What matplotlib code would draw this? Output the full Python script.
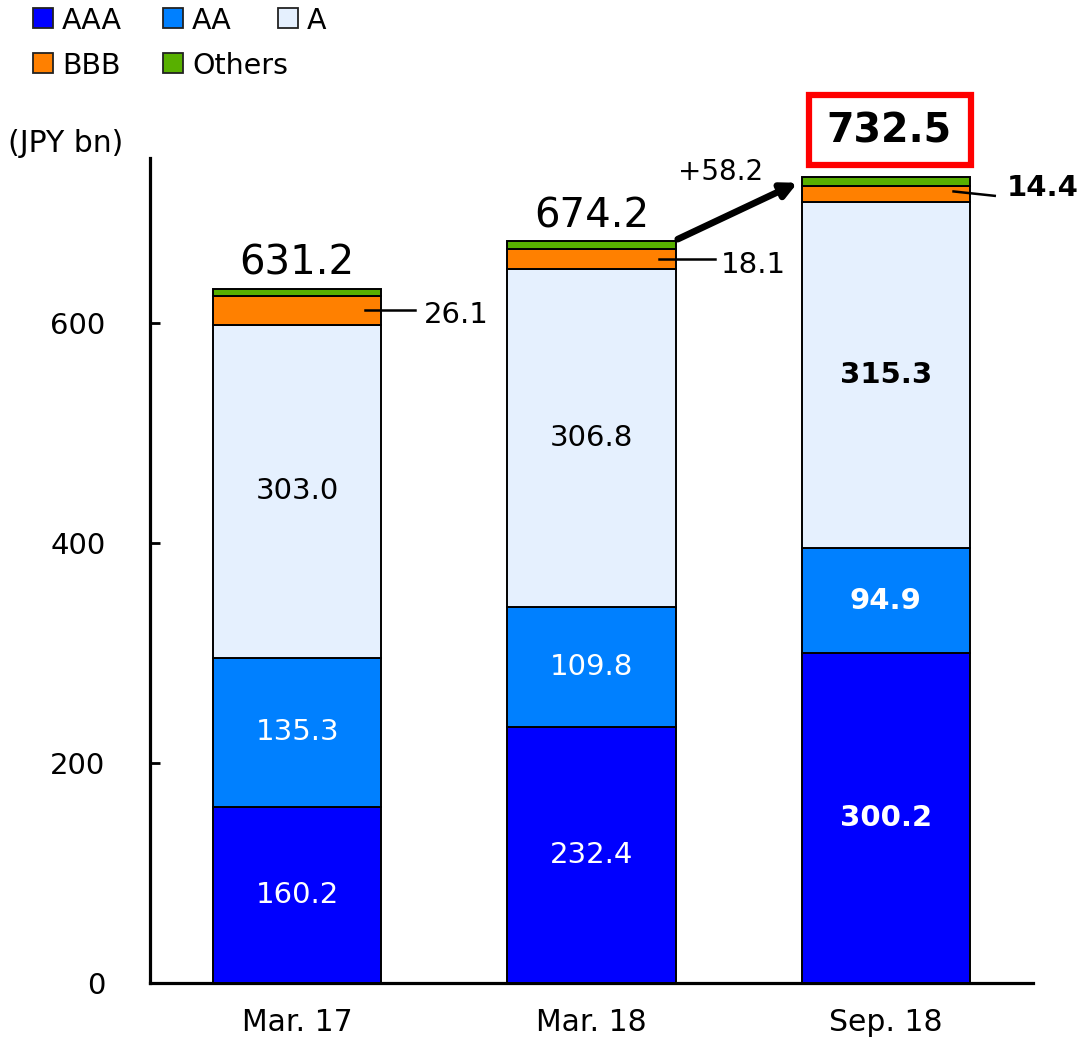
import matplotlib
matplotlib.use("Agg")
import matplotlib.pyplot as plt
from matplotlib.patches import Rectangle

# data (JPY bn)
periods = ["Mar. 17", "Mar. 18", "Sep. 18"]
aaa = [160.2, 232.4, 300.2]
aa = [135.3, 109.8, 94.9]
a = [303.0, 306.8, 315.3]
bbb = [26.1, 18.1, 14.4]
others = [6.6, 7.1, 7.7]
totals = [631.2, 674.2, 732.5]
increase = "+58.2"

series = [("AAA", aaa, "#0000FF", "white"),
          ("AA", aa, "#0080FF", "white"),
          ("A", a, "#E5F0FE", "black"),
          ("BBB", bbb, "#FF8000", None),
          ("Others", others, "#58B000", None)]

W, H = 1079, 1043
fig = plt.figure(figsize=(W / 100, H / 100), dpi=100)
ax = fig.add_axes([150 / W, 60 / H, 883 / W, 825 / H])

x = range(len(periods))
bottom = [0.0] * len(periods)
for name, vals, col, tcol in series:
    ax.bar(x, vals, 0.571, bottom=bottom, color=col, edgecolor="black",
           linewidth=1.4, zorder=3)
    if tcol:
        for i, v in enumerate(vals):
            ax.text(i, bottom[i] + v / 2, f"{v:.1f}", ha="center", va="center",
                    fontsize=21, color=tcol,
                    fontweight="bold" if i == 2 else "normal", zorder=4)
    bottom = [b + v for b, v in zip(bottom, vals)]

# BBB leader labels
bbb_base = [aaa[i] + aa[i] + a[i] for i in x]
for i in x:
    ym = bbb_base[i] + bbb[i] / 2
    dy = -2 if i == 2 else 0
    ax.plot([i + 0.23, i + 0.40 if i == 0 else i + 0.42 if i == 1 else i + 0.37],
            [ym + (2 if i == 2 else 0), ym + dy], color="black", lw=1.8,
            zorder=5, clip_on=False)
    tx = [0.43, 0.44, 0.41][i]
    ax.text(i + tx, ym + [-4, -5, 5][i], f"{bbb[i]:.1f}", ha="left", va="center",
            fontsize=21, fontweight="bold" if i == 2 else "normal",
            clip_on=False)

# totals
for i in range(2):
    ax.text(i, totals[i] + 23, f"{totals[i]:.1f}", ha="center", va="center",
            fontsize=29)
ax.text(2.01, totals[2] + 42, f"{totals[2]:.1f}", ha="center", va="center",
        fontsize=28.5, fontweight="bold", clip_on=False)
ax.add_patch(Rectangle((1.738, totals[2] + 11), 0.551, 63.5, fill=False,
                       edgecolor="#FF0000", linewidth=4.5, clip_on=False))

# growth arrow
ax.annotate("", xy=(1.70, totals[2] - 5), xytext=(1.293, totals[1] + 2),
            arrowprops=dict(arrowstyle="-|>,head_length=0.9,head_width=0.45",
                            color="black", lw=4.8, shrinkA=0, shrinkB=0),
            annotation_clip=False)
ax.text(1.44, 737, increase, ha="center", va="center", fontsize=20,
        clip_on=False)

ax.set_xlim(-0.5, 2.5)
ax.set_ylim(0, 750)
ax.set_yticks([0, 200, 400, 600])
ax.set_xticks(list(x))
ax.set_xticklabels(periods)
ax.tick_params(axis="y", direction="in", length=7, width=2, labelsize=21, pad=32)
ax.tick_params(axis="x", length=0, labelsize=21.5, pad=18)
for s in ("top", "right"):
    ax.spines[s].set_visible(False)
for s in ("left", "bottom"):
    ax.spines[s].set_linewidth(2.3)

fig.text(8 / W, 1 - 143 / H, "(JPY bn)", fontsize=21.5, ha="left", va="center")

# legend, laid out by hand (row-major)
leg_pos = {"AAA": (33, 18), "AA": (163, 18), "A": (278, 18),
           "BBB": (33, 63), "Others": (163, 63)}
for name, vals, col, tcol in series:
    px, py = leg_pos[name]
    fig.patches.append(Rectangle((px / W, 1 - (py + 10) / H), 20 / W, 20 / H,
                                 transform=fig.transFigure, facecolor=col,
                                 edgecolor="#222222", linewidth=1.3))
    fig.text((px + 29) / W, 1 - (py + 3) / H, name, fontsize=20.5, ha="left",
             va="center")

fig.savefig("out.png", dpi=100, facecolor="white")
